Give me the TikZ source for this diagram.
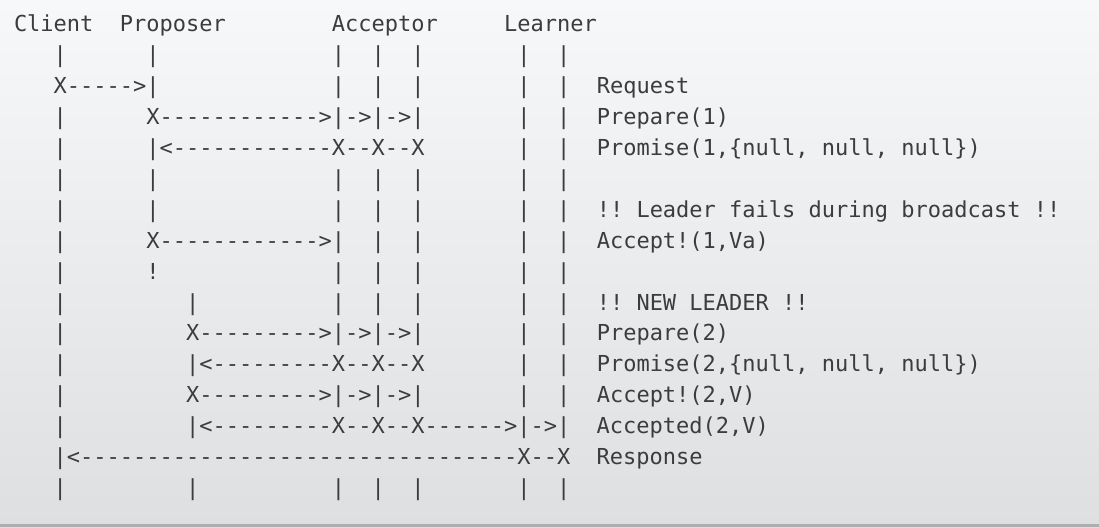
\documentclass[tikz,border=0pt]{standalone}
\usepackage{fontspec}
\newfontfamily\asciimono{DejaVu Sans Mono}
\definecolor{ink}{RGB}{60,60,62}
\definecolor{bgtop}{RGB}{246,248,250}
\definecolor{bgbot}{RGB}{221,223,225}
\definecolor{edge}{RGB}{172,174,176}
\tikzset{
  row/.style={anchor=base west, inner sep=0pt, outer sep=0pt, text=ink,
    font=\asciimono\fontsize{11.0pt}{13pt}\selectfont}
}
\begin{document}
\begin{tikzpicture}[x=0.5pt,y=-0.5pt]
\useasboundingbox (0,0) rectangle (1099,528);
\shade[top color=bgtop, bottom color=bgbot] (0,0) rectangle (1099,528);
\fill[edge] (0,524.5) rectangle (1099,527);
\def\lx{14}
\node[row] (L0)  at (\lx,32.0)  {Client~~Proposer~~~~~~~~Acceptor~~~~~Learner};
\node[row] (L1)  at (\lx,62.9)  {~~~|~~~~~~|~~~~~~~~~~~~~|~~|~~|~~~~~~~|~~|};
\node[row] (L2)  at (\lx,93.8)  {~~~X----->|~~~~~~~~~~~~~|~~|~~|~~~~~~~|~~|~~Request};
\node[row] (L3)  at (\lx,124.7) {~~~|~~~~~~X------------>|->|->|~~~~~~~|~~|~~Prepare(1)};
\node[row] (L4)  at (\lx,155.6) {~~~|~~~~~~|<------------X--X--X~~~~~~~|~~|~~Promise(1,\{null,~null,~null\})};
\node[row] (L5)  at (\lx,186.5) {~~~|~~~~~~|~~~~~~~~~~~~~|~~|~~|~~~~~~~|~~|};
\node[row] (L6)  at (\lx,217.4) {~~~|~~~~~~|~~~~~~~~~~~~~|~~|~~|~~~~~~~|~~|~~!!~Leader~fails~during~broadcast~!!};
\node[row] (L7)  at (\lx,248.3) {~~~|~~~~~~X------------>|~~|~~|~~~~~~~|~~|~~Accept!(1,Va)};
\node[row] (L8)  at (\lx,279.2) {~~~|~~~~~~!~~~~~~~~~~~~~|~~|~~|~~~~~~~|~~|};
\node[row] (L9)  at (\lx,310.1) {~~~|~~~~~~~~~|~~~~~~~~~~|~~|~~|~~~~~~~|~~|~~!!~NEW~LEADER~!!};
\node[row] (L10) at (\lx,341.0) {~~~|~~~~~~~~~X--------->|->|->|~~~~~~~|~~|~~Prepare(2)};
\node[row] (L11) at (\lx,371.9) {~~~|~~~~~~~~~|<---------X--X--X~~~~~~~|~~|~~Promise(2,\{null,~null,~null\})};
\node[row] (L12) at (\lx,402.8) {~~~|~~~~~~~~~X--------->|->|->|~~~~~~~|~~|~~Accept!(2,V)};
\node[row] (L13) at (\lx,433.7) {~~~|~~~~~~~~~|<---------X--X--X------>|->|~~Accepted(2,V)};
\node[row] (L14) at (\lx,464.6) {~~~|<---------------------------------X--X~~Response};
\node[row] (L15) at (\lx,495.5) {~~~|~~~~~~~~~|~~~~~~~~~~|~~|~~|~~~~~~~|~~|};
\end{tikzpicture}
\end{document}
